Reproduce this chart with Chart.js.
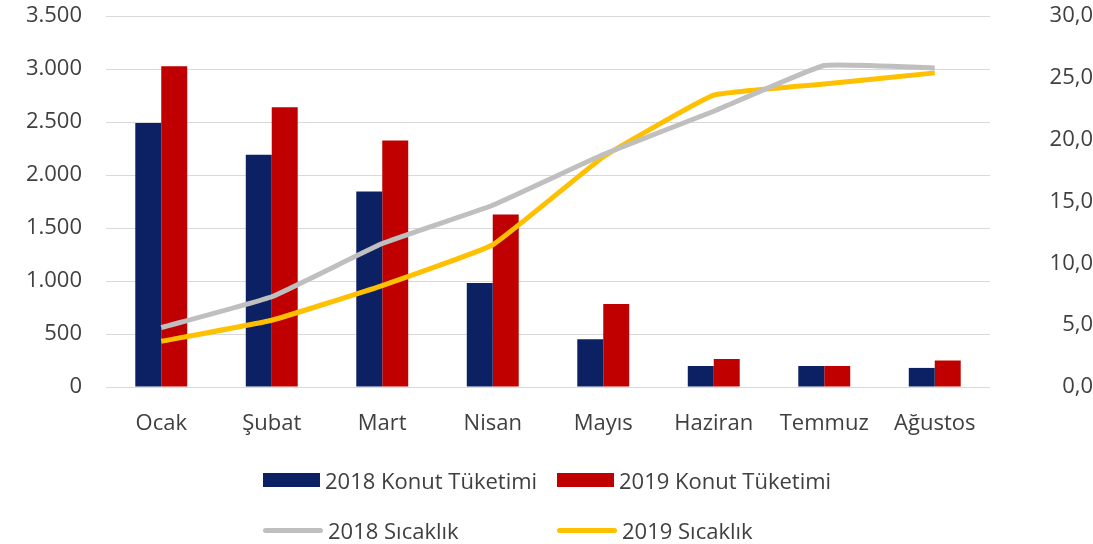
<!DOCTYPE html>
<html>
<head>
<meta charset="utf-8">
<script src="https://cdn.jsdelivr.net/npm/chart.js@4.4.1/dist/chart.umd.min.js"></script>
<style>
  html, body { margin: 0; padding: 0; background: #fff; }
  #wrap { position: relative; width: 1093px; height: 544px; }
  #myChart { display: block; }
  #legend {
    position: absolute; left: 263px; top: 466px;
    display: grid; grid-template-columns: 294px auto; row-gap: 22px;
    font-family: "Open Sans", sans-serif; font-size: 22px; color: #404040;
  }
  .item { display: flex; align-items: center; height: 28px; white-space: nowrap; }
  .sw { display: inline-block; margin-right: 5px; }
</style>
</head>
<body>
<div id="wrap">
  <canvas id="myChart" width="1093" height="544"></canvas>
  <div id="legend"></div>
</div>
<script>
let months = ["Ocak", "Şubat", "Mart", "Nisan", "Mayıs", "Haziran", "Temmuz", "Ağustos"];

let konut2018 = [2490, 2190, 1845, 980, 450, 198, 198, 180];
let konut2019 = [3025, 2640, 2325, 1627, 782, 264, 198, 250];

let sicaklik2018 = [4.8, 7.3, 11.6, 14.7, 18.8, 22.3, 26.0, 25.8];
let sicaklik2019 = [3.7, 5.4, 8.2, 11.5, 18.6, 23.6, 24.5, 25.4];

let fontFamily = "'Open Sans', sans-serif";
let textColor = "#404040";

let ctx = document.getElementById("myChart").getContext("2d");
let myChart = new Chart(ctx, {
  type: "bar",
  data: {
    labels: months,
    datasets: [
      {
        label: "2018 Konut Tüketimi",
        data: konut2018,
        backgroundColor: "#0c2163",
        yAxisID: "y",
        order: 1
      },
      {
        label: "2019 Konut Tüketimi",
        data: konut2019,
        backgroundColor: "#c00000",
        yAxisID: "y",
        order: 1
      },
      {
        type: "line",
        label: "2018 Sıcaklık",
        data: sicaklik2018,
        borderColor: "#bfbfbf",
        borderWidth: 5,
        pointRadius: 0,
        tension: 0.1,
        fill: false,
        yAxisID: "y1",
        order: 0
      },
      {
        type: "line",
        label: "2019 Sıcaklık",
        data: sicaklik2019,
        borderColor: "#ffc000",
        borderWidth: 5,
        pointRadius: 0,
        tension: 0.1,
        fill: false,
        yAxisID: "y1",
        order: 0
      }
    ]
  },
  options: {
    responsive: false,
    animation: false,
    layout: { padding: { top: 0, bottom: 106, left: 0, right: 0 } },
    datasets: {
      bar: { categoryPercentage: 0.47, barPercentage: 1.0 }
    },
    plugins: {
      legend: { display: false },
      tooltip: { enabled: false }
    },
    scales: {
      x: {
        afterFit: s => { s.height = 51; },
        grid: { display: false, drawTicks: false },
        border: { display: false },
        ticks: { color: textColor, padding: 24, maxRotation: 0, font: { family: fontFamily, size: 22 } }
      },
      y: {
        position: "left",
        min: 0,
        max: 3500,
        afterFit: s => { s.width = 106; s.paddingTop = 16; },
        grid: { color: "#d9d9d9", drawTicks: false },
        border: { display: false },
        ticks: {
          stepSize: 500,
          padding: 24,
          color: textColor,
          font: { family: fontFamily, size: 22 },
          callback: v => v.toLocaleString("tr-TR")
        }
      },
      y1: {
        position: "right",
        min: 0,
        max: 30,
        afterFit: s => { s.width = 103; s.paddingTop = 16; },
        grid: { display: false, drawTicks: false },
        border: { display: false },
        ticks: {
          stepSize: 5,
          padding: 41,
          crossAlign: "far",
          color: textColor,
          font: { family: fontFamily, size: 22 },
          callback: v => v.toLocaleString("tr-TR", { minimumFractionDigits: 1, maximumFractionDigits: 1 })
        }
      }
    }
  }
});

// legend in two rows like the original
let legendDiv = document.getElementById("legend");
myChart.data.datasets.forEach(ds => {
  let item = document.createElement("div");
  item.className = "item";
  let sw = document.createElement("span");
  sw.className = "sw";
  if (ds.type === "line") {
    sw.style.width = "60px";
    sw.style.height = "5px";
    sw.style.borderRadius = "3px";
    sw.style.background = ds.borderColor;
  } else {
    sw.style.width = "57px";
    sw.style.height = "14px";
    sw.style.background = ds.backgroundColor;
  }
  item.appendChild(sw);
  item.appendChild(document.createTextNode(ds.label));
  legendDiv.appendChild(item);
});
</script>
</body>
</html>
